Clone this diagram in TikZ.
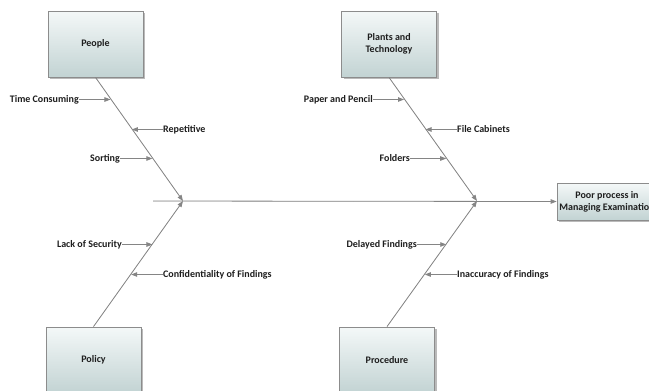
\documentclass[tikz,border=0pt]{standalone}
\usepackage{fontspec}
\setmainfont{Carlito}
\usetikzlibrary{arrows.meta,shadows,calc}
\definecolor{linegray}{HTML}{858585}
\definecolor{boxtop}{HTML}{F4F8F8}
\definecolor{boxbot}{HTML}{C2D3D3}
\definecolor{boxedge}{HTML}{8C8C8C}
\definecolor{txt}{HTML}{1E1E1E}
\begin{document}
\begin{tikzpicture}[x=1pt,y=-1pt,
  cat/.style={draw=boxedge, line width=0.8pt, top color=boxtop, bottom color=boxbot,
    minimum width=95pt, minimum height=66pt, align=center, inner sep=2pt,
    font=\fontsize{10}{12}\selectfont\bfseries, text=txt,
    drop shadow={shadow xshift=2pt, shadow yshift=-2pt, fill=black!45, opacity=0.6}},
  effect/.style={cat, minimum width=100pt, minimum height=37pt},
  cause/.style={inner sep=0pt, font=\fontsize{10}{12}\selectfont\bfseries, text=txt},
  bone/.style={draw=linegray, line width=0.8pt},
  tip/.style={-{Triangle[length=6pt,width=4.5pt]}, draw=linegray, fill=linegray, line width=0.8pt}
]
\useasboundingbox (0,0) rectangle (649,391);
\clip (0,0) rectangle (649,391);
\fill[white] (0,0) rectangle (649,391);

% category boxes
\node[cat] (people) at (95.5,44) {People};
\node[cat] (plants) at (389,44) {Plants and\\Technology};
\node[cat] (policy) at (93.5,360) {Policy};
\node[cat] (proc) at (387,360) {Procedure};
\node[effect] (effect) at (607,201.5) {Poor process in\\Managing Examination};

% spine
\coordinate (tail) at (153,201);
\coordinate (j1) at (183,201);
\coordinate (j2) at (477,201);
\draw[tip] (tail) -- (effect.west);

% bones
\draw[tip] (people.south) -- (j1);
\draw[tip] (plants.south) -- (j2);
\draw[tip] (policy.north) -- (j1);
\draw[tip] (proc.north) -- (j2);

% points on bones
\coordinate (pa) at ($(people.south)!0.171!(j1)$);
\coordinate (pb) at ($(people.south)!0.415!(j1)$);
\coordinate (pc) at ($(people.south)!0.650!(j1)$);
\coordinate (qa) at ($(plants.south)!0.171!(j2)$);
\coordinate (qb) at ($(plants.south)!0.415!(j2)$);
\coordinate (qc) at ($(plants.south)!0.650!(j2)$);
\coordinate (ra) at ($(policy.north)!0.659!(j1)$);
\coordinate (rb) at ($(policy.north)!0.421!(j1)$);
\coordinate (sa) at ($(proc.north)!0.659!(j2)$);
\coordinate (sb) at ($(proc.north)!0.421!(j2)$);

% causes
\node[cause, anchor=east] (tc) at (79,99.5) {Time Consuming};
\node[cause, anchor=west] (rep) at (163,129.5) {Repetitive};
\node[cause, anchor=east] (sort) at (120,158.5) {Sorting};
\node[cause, anchor=east] (pp) at (373,99.5) {Paper and Pencil};
\node[cause, anchor=west] (fc) at (457,129.5) {File Cabinets};
\node[cause, anchor=east] (fold) at (410,158.5) {Folders};
\node[cause, anchor=east] (sec) at (122,244.5) {Lack of Security};
\node[cause, anchor=west] (conf) at (163,274.5) {Confidentiality of Findings};
\node[cause, anchor=east] (del) at (417,244.5) {Delayed Findings};
\node[cause, anchor=west] (inacc) at (457,274.5) {Inaccuracy of Findings};

\draw[tip] (tc.east) -- (tc.east -| pa);
\draw[tip] (rep.west) -- (rep.west -| pb);
\draw[tip] (sort.east) -- (sort.east -| pc);
\draw[tip] (pp.east) -- (pp.east -| qa);
\draw[tip] (fc.west) -- (fc.west -| qb);
\draw[tip] (fold.east) -- (fold.east -| qc);
\draw[tip] (sec.east) -- (sec.east -| ra);
\draw[tip] (conf.west) -- (conf.west -| rb);
\draw[tip] (del.east) -- (del.east -| sa);
\draw[tip] (inacc.west) -- (inacc.west -| sb);
\end{tikzpicture}
\end{document}
